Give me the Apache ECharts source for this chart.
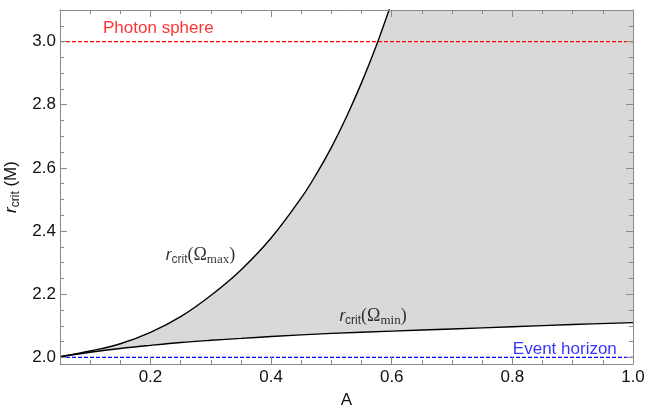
<!DOCTYPE html>
<html>
<head>
<meta charset="utf-8">
<script src="https://cdn.jsdelivr.net/npm/echarts@6/dist/echarts.min.js"></script>
<style>html,body{margin:0;padding:0;background:#fff;}#c{width:660px;height:411px;}</style>
</head>
<body>
<div id="c"></div>
<script>
// ---- data ----
const xMin = 0.05, xMax = 1.0, yMin = 1.979, yMax = 3.1;
const xMajor = [0.2, 0.4, 0.6, 0.8, 1.0];
const yMajor = [2.0, 2.2, 2.4, 2.6, 2.8, 3.0];
const xMinorStep = 0.05, yMinorStep = 0.05;

const aUpper = [0.05, 0.1, 0.15, 0.2, 0.25, 0.3, 0.35, 0.4, 0.45, 0.475, 0.5, 0.525, 0.55, 0.575, 0.6, 0.625];
const rUpper = [2.002, 2.020, 2.043, 2.079, 2.129, 2.196, 2.277, 2.378, 2.505, 2.580, 2.665, 2.762, 2.870, 2.990, 3.125, 3.27];

const aLower = [0.05, 0.1, 0.15, 0.2, 0.25, 0.3, 0.35, 0.4, 0.5, 0.6, 0.7, 0.8, 0.9, 1.0];
const rLower = [2.002, 2.016, 2.028, 2.038, 2.047, 2.054, 2.060, 2.066, 2.076, 2.083, 2.090, 2.097, 2.104, 2.110];

const photonR = 3.0;
const horizonR = 2.0;

const labelTexts = ['{ri|r}{rs|crit}{so|(Ω}{ss|max}{so|)}', '{ri|r}{rs|crit}{so|(Ω}{ss|min}{so|)}'];
const labelA = [0.283, 0.569];
const labelR = [2.323, 2.130];
const photonLabel = 'Photon sphere', photonLabelPos = [0.213, 3.042];
const horizonLabel = 'Event horizon', horizonLabelPos = [0.887, 2.027];

// ---- chart ----
const frame = '#8a8a8a';
const txt = '#111';
const upperPts = aUpper.map((a, i) => [a, rUpper[i]]);
const lowerPts = aLower.map((a, i) => [a, rLower[i]]);
const fillPts = upperPts.concat([[xMax, rUpper[rUpper.length - 1]]]);
const isIn = (arr, v) => arr.some(t => Math.abs(t - v) < 1e-6);
const G = { left: 60, right: 27, top: 10, bottom: 47, containLabel: false, outerBoundsMode: 'none' };

function xAx(g, pos, major, labels) {
  const o = {
    type: 'value', gridIndex: g, position: pos, min: xMin, max: xMax, z: 5,
    axisLine: { show: major, onZero: false, lineStyle: { color: frame, width: 1 } },
    axisTick: { show: true, inside: true, length: major ? 7 : 4, lineStyle: { color: frame } },
    axisLabel: { show: false }, splitLine: { show: false }
  };
  if (major) o.splitNumber = 5; else o.interval = xMinorStep;
  if (labels) o.axisLabel = { show: true, showMinLabel: true, showMaxLabel: true,
    formatter: v => isIn(xMajor, v) ? v.toFixed(1) : '', fontSize: 17, color: txt, margin: 5, fontFamily: 'Liberation Sans' };
  return o;
}
function yAx(g, pos, major, labels) {
  const o = {
    type: 'value', gridIndex: g, position: pos, min: yMin, max: yMax, z: 5,
    axisLine: { show: major, onZero: false, lineStyle: { color: frame, width: 1 } },
    axisTick: { show: true, inside: true, length: major ? 7 : 4, lineStyle: { color: frame } },
    axisLabel: { show: false }, splitLine: { show: false }
  };
  o.splitNumber = major ? 5 : Math.round((yMax - yMin) / yMinorStep);
  if (labels) o.axisLabel = { show: true, showMinLabel: true, showMaxLabel: true,
    formatter: v => isIn(yMajor, v) ? v.toFixed(1) : '', fontSize: 17, color: txt, margin: 4, fontFamily: 'Liberation Sans' };
  return o;
}
// grid 0: bottom/left major (with labels); grid 1: bottom/left minor; grid 2: top/right major; grid 3: top/right minor
const xAxes = [xAx(0, 'bottom', true, true), xAx(1, 'bottom', false, false), xAx(2, 'top', true, false), xAx(3, 'top', false, false)];
const yAxes = [yAx(0, 'left', true, true), yAx(1, 'left', false, false), yAx(2, 'right', true, false), yAx(3, 'right', false, false)];
xAxes[0].name = 'A'; xAxes[0].nameLocation = 'middle'; xAxes[0].nameGap = 28;
xAxes[0].nameTextStyle = { fontSize: 17, color: txt, fontFamily: 'Liberation Sans' };
yAxes[0].name = '{i|r}{s|crit}{n| (M)}';
yAxes[0].nameLocation = 'middle'; yAxes[0].nameGap = 30;
yAxes[0].nameTextStyle = {
  color: txt, fontFamily: 'Liberation Sans',
  rich: {
    i: { fontStyle: 'italic', fontSize: 17, fontFamily: 'Liberation Sans', color: txt },
    s: { fontSize: 12, fontFamily: 'Liberation Sans', color: txt, padding: [8, 0, 0, 0], verticalAlign: 'bottom' },
    n: { fontSize: 17, fontFamily: 'Liberation Sans', color: txt }
  }
};

const richIn = {
  ri: { fontStyle: 'italic', fontSize: 17, fontFamily: 'Liberation Sans', color: '#000' },
  rs: { fontSize: 12, fontFamily: 'Liberation Sans', color: '#000', padding: [8, 0, 0, 0], verticalAlign: 'bottom' },
  so: { fontSize: 18, fontFamily: 'Liberation Serif', color: '#000' },
  ss: { fontSize: 13, fontFamily: 'Liberation Serif', color: '#000', padding: [8, 0, 0, 0], verticalAlign: 'bottom' }
};

const option = {
  animation: false,
  backgroundColor: '#fff',
  grid: [G, G, G, G],
  xAxis: xAxes,
  yAxis: yAxes,
  series: [
    { type: 'line', data: fillPts, smooth: 0.4, symbol: 'none', lineStyle: { width: 0 },
      areaStyle: { color: '#d9d9d9', opacity: 1, origin: 'start' }, z: 1 },
    { type: 'line', data: lowerPts, smooth: 0.4, symbol: 'none', lineStyle: { width: 0 },
      areaStyle: { color: '#ffffff', opacity: 1, origin: 'start' }, z: 2 },
    { type: 'line', data: upperPts, smooth: 0.4, symbol: 'none', lineStyle: { color: '#000', width: 1.4 }, z: 3 },
    { type: 'line', data: lowerPts, smooth: 0.4, symbol: 'none', lineStyle: { color: '#000', width: 1.4 }, z: 3 },
    { type: 'line', data: [[xMin, photonR], [xMax, photonR]], symbol: 'none', lineStyle: { color: '#ff0000', width: 1.1, type: [4, 2] }, z: 4 },
    { type: 'line', data: [[xMin, horizonR], [xMax, horizonR]], symbol: 'none', lineStyle: { color: '#0000ff', width: 1.2, type: [4, 2] }, z: 4 },
    { type: 'scatter', symbolSize: 0, z: 6,
      data: labelTexts.map((t, i) => ({ value: [labelA[i], labelR[i]], label: { formatter: t } })),
      label: { show: true, position: 'inside', rich: richIn } },
    { type: 'scatter', symbolSize: 0, z: 6,
      data: [
        { value: photonLabelPos, label: { formatter: photonLabel, color: '#ff0000' } },
        { value: horizonLabelPos, label: { formatter: horizonLabel, color: '#0000ff' } }
      ],
      label: { show: true, position: 'inside', fontSize: 17, fontFamily: 'Liberation Sans' } }
  ]
};
const chart = echarts.init(document.getElementById('c'), null, { renderer: 'canvas' });
chart.setOption(option);
</script>
</body>
</html>
